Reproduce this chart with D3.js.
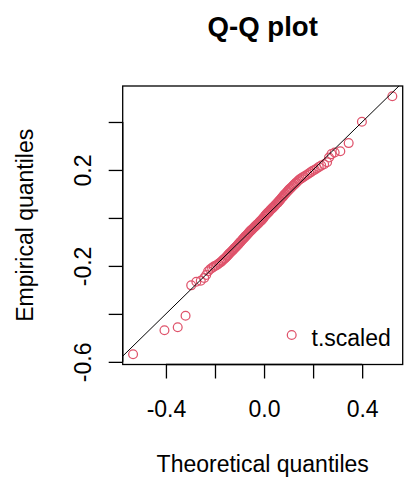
<!DOCTYPE html>
<html>
<head>
<meta charset="utf-8">
<script src="https://cdn.jsdelivr.net/npm/d3@7"></script>
<style>
  html, body { margin: 0; padding: 0; background: #ffffff; }
  svg { display: block; font-family: "Liberation Sans", Arial, sans-serif; }
</style>
</head>
<body>
<svg id="chart" width="404" height="483"></svg>
<script>
// ---- data ----
const theoretical = [
-0.534,-0.406,-0.352,-0.320,-0.297,-0.276,-0.258,-0.244,-0.236,-0.228,
-0.220,-0.212,-0.205,-0.198,-0.192,-0.186,-0.180,-0.174,-0.169,-0.164,
-0.159,-0.154,-0.150,-0.146,-0.142,-0.138,-0.134,-0.130,-0.126,-0.122,
-0.118,-0.115,-0.111,-0.108,-0.104,-0.101,-0.097,-0.094,-0.090,-0.087,
-0.084,-0.080,-0.077,-0.074,-0.070,-0.067,-0.064,-0.061,-0.057,-0.054,
-0.051,-0.048,-0.044,-0.041,-0.038,-0.035,-0.032,-0.028,-0.025,-0.022,
-0.019,-0.016,-0.012,-0.009,-0.006,-0.003,0.001,0.004,0.007,0.010,
0.014,0.017,0.020,0.023,0.026,0.030,0.033,0.036,0.039,0.043,
0.046,0.049,0.053,0.056,0.059,0.063,0.066,0.070,0.073,0.077,
0.080,0.084,0.088,0.092,0.096,0.100,0.104,0.108,0.112,0.117,
0.121,0.126,0.131,0.136,0.141,0.146,0.152,0.158,0.164,0.170,
0.177,0.184,0.191,0.199,0.207,0.215,0.223,0.233,0.245,0.257,
0.265,0.275,0.288,0.311,0.345,0.399,0.523];

const empirical = [
-0.568,-0.468,-0.456,-0.408,-0.281,-0.266,-0.262,-0.250,-0.238,-0.222,
-0.214,-0.208,-0.203,-0.199,-0.196,-0.191,-0.187,-0.182,-0.177,-0.172,
-0.168,-0.163,-0.158,-0.154,-0.149,-0.145,-0.141,-0.137,-0.133,-0.128,
-0.124,-0.121,-0.117,-0.113,-0.109,-0.105,-0.101,-0.097,-0.093,-0.089,
-0.086,-0.082,-0.078,-0.075,-0.071,-0.067,-0.064,-0.060,-0.056,-0.053,
-0.050,-0.047,-0.043,-0.040,-0.037,-0.034,-0.031,-0.027,-0.024,-0.021,
-0.018,-0.014,-0.011,-0.008,-0.004,-0.001,0.005,0.009,0.012,0.016,
0.020,0.023,0.026,0.030,0.033,0.037,0.040,0.043,0.046,0.050,
0.054,0.057,0.061,0.064,0.068,0.072,0.076,0.081,0.085,0.089,
0.093,0.098,0.102,0.107,0.111,0.116,0.120,0.124,0.128,0.133,
0.137,0.142,0.147,0.152,0.157,0.161,0.165,0.169,0.173,0.177,
0.181,0.186,0.191,0.197,0.201,0.206,0.212,0.218,0.224,0.232,
0.252,0.266,0.273,0.278,0.312,0.401,0.507];

const xTicks = [-0.4, -0.2, 0.0, 0.2, 0.4];
const xTickLabels = ["-0.4", "", "0.0", "", "0.4"];
const yTicks = [-0.6, -0.4, -0.2, 0.0, 0.2, 0.4];
const yTickLabels = ["-0.6", "", "-0.2", "", "0.2", ""];
const refLine = [0, 1];           // intercept, slope
const seriesName = "t.scaled";
const titleText = "Q-Q plot";
const xTitle = "Theoretical quantiles";
const yTitle = "Empirical quantiles";

// ---- layout ----
const W = 404, H = 483;
const plot = { left: 122.7, right: 402.7, top: 86, bottom: 364.5 };
const col = "#DF536B";
const fs = 23;
const rad = 4.4;

const svg = d3.select("#chart");

function rExpand(ext) { const d = (ext[1] - ext[0]) * 0.04; return [ext[0] - d, ext[1] + d]; }
const x = d3.scaleLinear().domain(rExpand(d3.extent(theoretical))).range([plot.left, plot.right]);
const y = d3.scaleLinear().domain(rExpand(d3.extent(empirical))).range([plot.bottom, plot.top]);

const pts = theoretical.map((t, i) => ({ t, e: empirical[i] }));

svg.append("defs").append("clipPath").attr("id", "clip")
  .append("rect").attr("x", plot.left).attr("y", plot.top)
  .attr("width", plot.right - plot.left).attr("height", plot.bottom - plot.top);

// points
svg.append("g").selectAll("circle").data(pts).join("circle")
  .attr("cx", d => x(d.t)).attr("cy", d => y(d.e)).attr("r", rad)
  .attr("fill", "none").attr("stroke", col).attr("stroke-width", 1.25);

// reference line y = a + b x
const xd = x.domain();
svg.append("line").attr("clip-path", "url(#clip)")
  .attr("x1", x(xd[0])).attr("y1", y(refLine[0] + refLine[1] * xd[0]))
  .attr("x2", x(xd[1])).attr("y2", y(refLine[0] + refLine[1] * xd[1]))
  .attr("stroke", "#000").attr("stroke-width", 1);

// box
svg.append("rect").attr("x", plot.left).attr("y", plot.top)
  .attr("width", plot.right - plot.left).attr("height", plot.bottom - plot.top)
  .attr("fill", "none").attr("stroke", "#000").attr("stroke-width", 1.3);

// x axis
const gx = svg.append("g").attr("transform", `translate(0,${plot.bottom})`)
  .call(d3.axisBottom(x).tickValues(xTicks).tickSize(14).tickFormat((d, i) => xTickLabels[i]));
gx.select(".domain").attr("d", `M${x(xTicks[0])},0H${x(xTicks[xTicks.length-1])}`).attr("stroke-width", 1.3);
gx.selectAll(".tick line").attr("stroke-width", 1.3);
gx.selectAll("text").attr("y", 52.5).attr("dy", null)
  .style("font-size", fs + "px").style("font-family", "Liberation Sans, Arial, sans-serif").attr("fill", "#000");

// y axis
const gy = svg.append("g").attr("transform", `translate(${plot.left},0)`)
  .call(d3.axisLeft(y).tickValues(yTicks).tickSize(14).tickFormat((d, i) => yTickLabels[i]));
gy.select(".domain").attr("d", `M0,${y(yTicks[0])}V${y(yTicks[yTicks.length-1])}`).attr("stroke-width", 1.3);
gy.selectAll(".tick line").attr("stroke-width", 1.3);
gy.selectAll("text").attr("x", null).attr("dy", null).attr("y", null)
  .attr("transform", "translate(-31.5,0) rotate(-90)")
  .attr("text-anchor", "middle")
  .style("font-size", fs + "px").style("font-family", "Liberation Sans, Arial, sans-serif").attr("fill", "#000");

// titles
const cx = (plot.left + plot.right) / 2;
svg.append("text").attr("x", cx).attr("y", 36).attr("text-anchor", "middle")
  .style("font-size", (fs * 1.2) + "px").style("font-weight", "bold").text(titleText);
svg.append("text").attr("x", cx).attr("y", 472).attr("text-anchor", "middle")
  .style("font-size", fs + "px").text(xTitle);
svg.append("text").attr("transform", `translate(33,${(plot.top + plot.bottom) / 2}) rotate(-90)`)
  .attr("text-anchor", "middle").style("font-size", fs + "px").text(yTitle);

// legend
svg.append("circle").attr("cx", 291.7).attr("cy", 335).attr("r", rad)
  .attr("fill", "none").attr("stroke", col).attr("stroke-width", 1.25);
svg.append("text").attr("x", 311.5).attr("y", 346).style("font-size", fs + "px").text(seriesName);
</script>
</body>
</html>
